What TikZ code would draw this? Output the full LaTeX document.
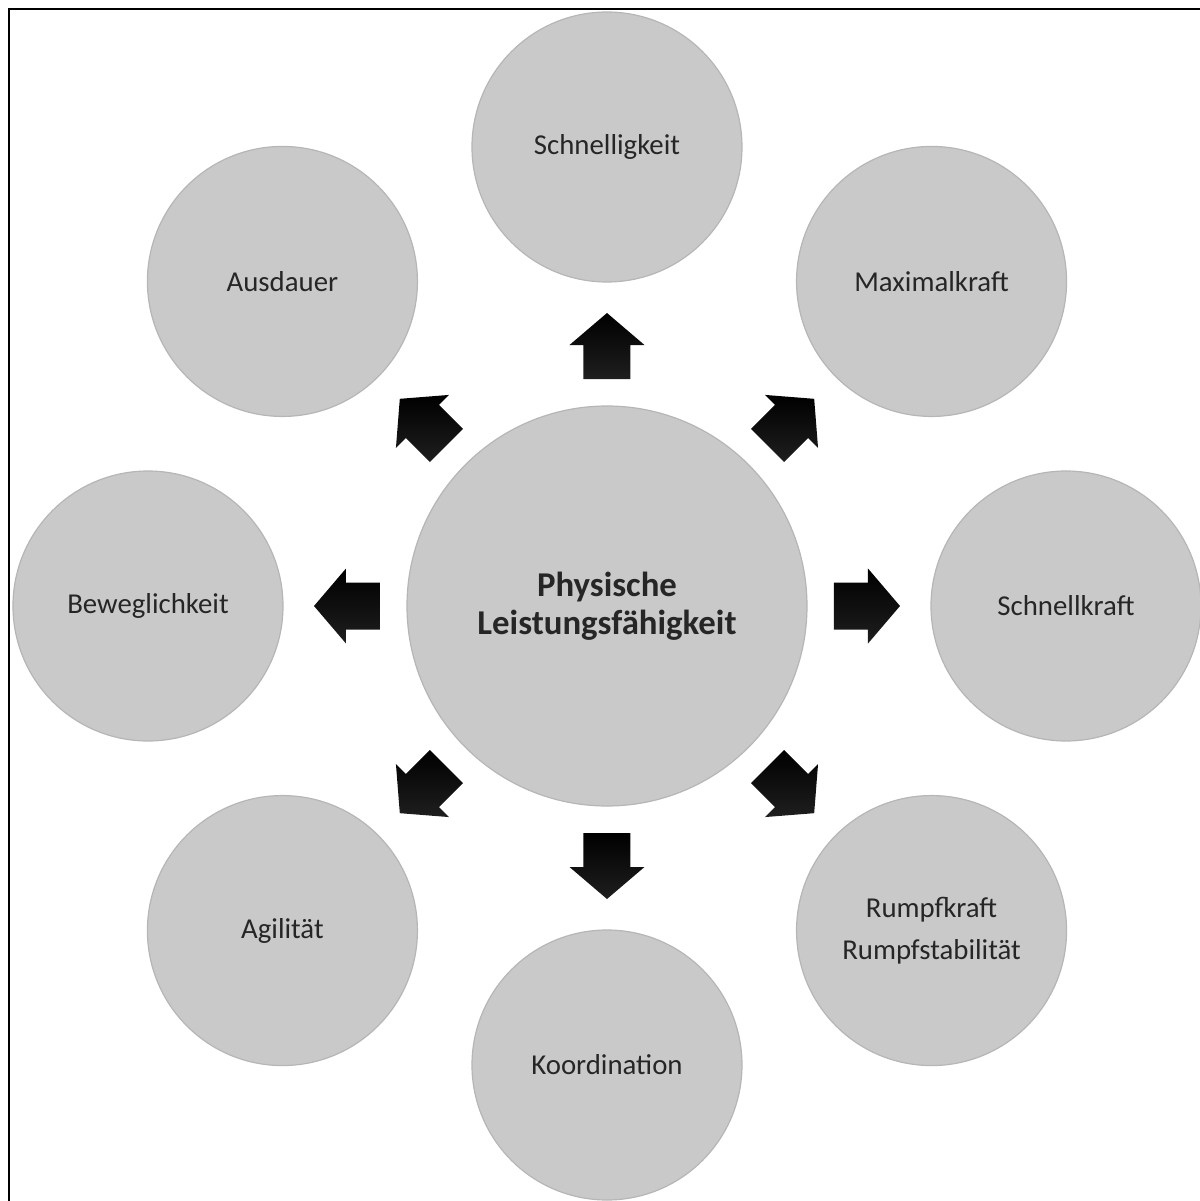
\documentclass[tikz,border=0pt]{standalone}
\usepackage{fontspec}
\setmainfont{Carlito}
\definecolor{bubblegray}{RGB}{201,201,201}
\definecolor{bubbleedge}{RGB}{182,182,182}
\begin{document}
\begin{tikzpicture}[x=0.5pt,y=0.5pt,
    bubble/.style={circle,fill=bubblegray,draw=bubbleedge,line width=0.6pt,inner sep=0pt,
      minimum size=135pt,align=center,text=black!85,font=\fontsize{14.4}{21}\selectfont},
    hub/.style={bubble,minimum size=200pt,font=\fontsize{17.4}{19}\selectfont\bfseries},
    blockarrow/.style={top color=black,bottom color=black!88,draw=none}
    ]

    \useasboundingbox (-607,-595) rectangle (593,606);
    \draw[line width=1pt] (-598,-595) -- (-598,597) -- (593,597);

    \node (hub) [hub] at (0,0) {Physische\\Leistungsfähigkeit};

    \foreach \a/\name/\txt in {90/schnell/Schnelligkeit, 45/maxk/Maximalkraft,
        0/schnellk/Schnellkraft, -45/rumpf/{Rumpfkraft\\Rumpfstabilität},
        -90/koord/Koordination, -135/agil/Agilität, 180/bewegl/Beweglichkeit,
        135/ausd/Ausdauer}
      \node (\name) [bubble] at (\a:459) {\txt};

    \foreach \a in {0,45,...,315}
      \shade[blockarrow] [shift={(hub.center)},rotate=\a]
        (227,-23.5) -- (261,-23.5) -- (261,-37.5) -- (293,0)
        -- (261,37.5) -- (261,23.5) -- (227,23.5) -- cycle;

\end{tikzpicture}
\end{document}
